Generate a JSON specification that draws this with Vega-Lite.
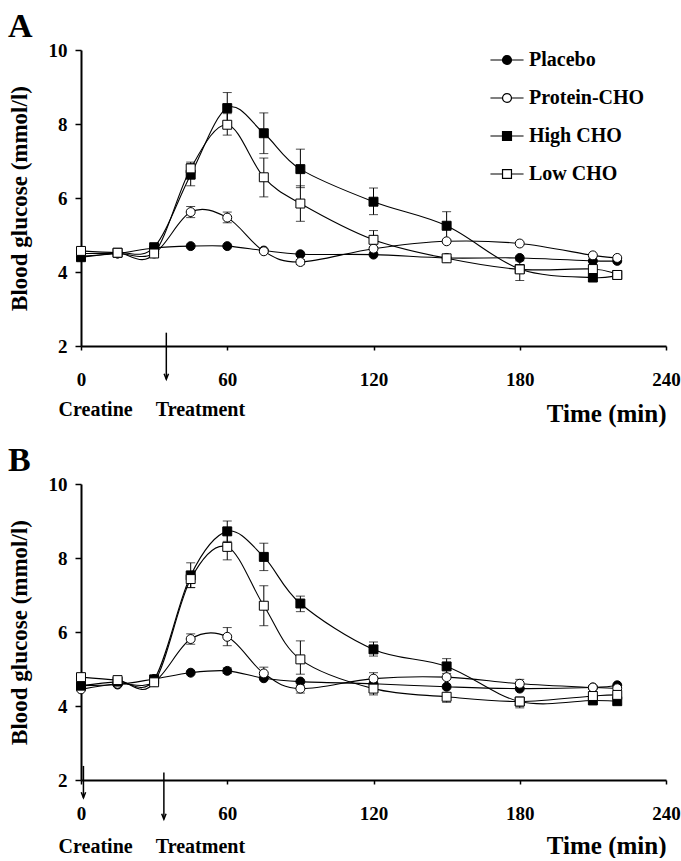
{
  "$schema": "https://vega.github.io/schema/vega-lite/v6.json",
  "padding": {"left": 8, "top": 10, "right": 0, "bottom": 0},
  "background": "white",
  "config": {
    "font": "Liberation Serif",
    "view": {"stroke": null},
    "axis": {"domainColor": "black", "domainWidth": 2, "tickColor": "black", "tickWidth": 1.5, "labelColor": "black", "labelFont": "Liberation Serif", "labelFontWeight": "bold", "labelFontSize": 19, "titleFont": "Liberation Serif", "titleFontWeight": "bold", "titleColor": "black", "grid": false},
    "title": {"font": "Liberation Serif", "fontWeight": "bold", "fontSize": 34, "anchor": "start", "color": "black", "frame": "bounds", "offset": -3},
    "concat": {"spacing": 18}
  },
  "datasets": {
    "A": [
      {"group": "Placebo", "t": 0, "v": 4.43}, {"group": "Placebo", "t": 15, "v": 4.5}, {"group": "Placebo", "t": 30, "v": 4.65}, {"group": "Placebo", "t": 45, "v": 4.7}, {"group": "Placebo", "t": 60, "v": 4.7}, {"group": "Placebo", "t": 75, "v": 4.58}, {"group": "Placebo", "t": 90, "v": 4.48}, {"group": "Placebo", "t": 120, "v": 4.47}, {"group": "Placebo", "t": 150, "v": 4.38}, {"group": "Placebo", "t": 180, "v": 4.38}, {"group": "Placebo", "t": 210, "v": 4.3}, {"group": "Placebo", "t": 220, "v": 4.3},
      {"group": "Protein-CHO", "t": 0, "v": 4.5}, {"group": "Protein-CHO", "t": 15, "v": 4.5}, {"group": "Protein-CHO", "t": 30, "v": 4.5}, {"group": "Protein-CHO", "t": 45, "v": 5.62, "lo": 5.47, "hi": 5.77}, {"group": "Protein-CHO", "t": 60, "v": 5.47, "lo": 5.33, "hi": 5.62}, {"group": "Protein-CHO", "t": 75, "v": 4.56}, {"group": "Protein-CHO", "t": 90, "v": 4.27, "lo": 4.2, "hi": 4.33}, {"group": "Protein-CHO", "t": 120, "v": 4.63}, {"group": "Protein-CHO", "t": 150, "v": 4.83}, {"group": "Protein-CHO", "t": 180, "v": 4.77}, {"group": "Protein-CHO", "t": 210, "v": 4.45}, {"group": "Protein-CHO", "t": 220, "v": 4.38},
      {"group": "High CHO", "t": 0, "v": 4.4}, {"group": "High CHO", "t": 15, "v": 4.52}, {"group": "High CHO", "t": 30, "v": 4.67}, {"group": "High CHO", "t": 45, "v": 6.63, "lo": 6.33, "hi": 6.93}, {"group": "High CHO", "t": 60, "v": 8.43, "lo": 8.03, "hi": 8.85}, {"group": "High CHO", "t": 75, "v": 7.75, "lo": 7.2, "hi": 8.3}, {"group": "High CHO", "t": 90, "v": 6.78, "lo": 6.28, "hi": 7.32}, {"group": "High CHO", "t": 120, "v": 5.9, "lo": 5.55, "hi": 6.27}, {"group": "High CHO", "t": 150, "v": 5.25, "lo": 4.88, "hi": 5.63}, {"group": "High CHO", "t": 180, "v": 4.08}, {"group": "High CHO", "t": 210, "v": 3.85, "lo": 3.78, "hi": 3.92}, {"group": "High CHO", "t": 220, "v": 3.92},
      {"group": "Low CHO", "t": 0, "v": 4.57}, {"group": "Low CHO", "t": 15, "v": 4.52}, {"group": "Low CHO", "t": 30, "v": 4.5}, {"group": "Low CHO", "t": 45, "v": 6.8, "lo": 6.65, "hi": 6.97}, {"group": "Low CHO", "t": 60, "v": 7.98, "lo": 7.7, "hi": 8.28}, {"group": "Low CHO", "t": 75, "v": 6.56, "lo": 6.03, "hi": 7.08}, {"group": "Low CHO", "t": 90, "v": 5.85, "lo": 5.37, "hi": 6.33}, {"group": "Low CHO", "t": 120, "v": 4.87, "lo": 4.65, "hi": 5.12}, {"group": "Low CHO", "t": 150, "v": 4.37}, {"group": "Low CHO", "t": 180, "v": 4.07, "lo": 3.77, "hi": 4.3}, {"group": "Low CHO", "t": 210, "v": 4.08}, {"group": "Low CHO", "t": 220, "v": 3.92}
    ],
    "B": [
      {"group": "Placebo", "t": 0, "v": 4.55}, {"group": "Placebo", "t": 15, "v": 4.58}, {"group": "Placebo", "t": 30, "v": 4.73}, {"group": "Placebo", "t": 45, "v": 4.9}, {"group": "Placebo", "t": 60, "v": 4.95, "lo": 4.88, "hi": 5.03}, {"group": "Placebo", "t": 75, "v": 4.75}, {"group": "Placebo", "t": 90, "v": 4.66}, {"group": "Placebo", "t": 120, "v": 4.6}, {"group": "Placebo", "t": 150, "v": 4.52}, {"group": "Placebo", "t": 180, "v": 4.47}, {"group": "Placebo", "t": 210, "v": 4.5}, {"group": "Placebo", "t": 220, "v": 4.56},
      {"group": "Protein-CHO", "t": 0, "v": 4.45}, {"group": "Protein-CHO", "t": 15, "v": 4.6}, {"group": "Protein-CHO", "t": 30, "v": 4.65}, {"group": "Protein-CHO", "t": 45, "v": 5.81, "lo": 5.67, "hi": 5.95}, {"group": "Protein-CHO", "t": 60, "v": 5.87, "lo": 5.63, "hi": 6.12}, {"group": "Protein-CHO", "t": 75, "v": 4.88, "lo": 4.75, "hi": 5.05}, {"group": "Protein-CHO", "t": 90, "v": 4.47, "lo": 4.35, "hi": 4.55}, {"group": "Protein-CHO", "t": 120, "v": 4.74, "lo": 4.6, "hi": 4.9}, {"group": "Protein-CHO", "t": 150, "v": 4.78}, {"group": "Protein-CHO", "t": 180, "v": 4.6, "lo": 4.5, "hi": 4.72}, {"group": "Protein-CHO", "t": 210, "v": 4.5}, {"group": "Protein-CHO", "t": 220, "v": 4.48},
      {"group": "High CHO", "t": 0, "v": 4.55}, {"group": "High CHO", "t": 15, "v": 4.66}, {"group": "High CHO", "t": 30, "v": 4.72}, {"group": "High CHO", "t": 45, "v": 7.53, "lo": 7.2, "hi": 7.87}, {"group": "High CHO", "t": 60, "v": 8.72, "lo": 8.45, "hi": 9.0}, {"group": "High CHO", "t": 75, "v": 8.03, "lo": 7.66, "hi": 8.4}, {"group": "High CHO", "t": 90, "v": 6.77, "lo": 6.55, "hi": 6.97}, {"group": "High CHO", "t": 120, "v": 5.53, "lo": 5.35, "hi": 5.73}, {"group": "High CHO", "t": 150, "v": 5.07, "lo": 4.88, "hi": 5.28}, {"group": "High CHO", "t": 180, "v": 4.12}, {"group": "High CHO", "t": 210, "v": 4.15, "lo": 4.05, "hi": 4.25}, {"group": "High CHO", "t": 220, "v": 4.13},
      {"group": "Low CHO", "t": 0, "v": 4.78}, {"group": "Low CHO", "t": 15, "v": 4.7}, {"group": "Low CHO", "t": 30, "v": 4.64}, {"group": "Low CHO", "t": 45, "v": 7.43, "lo": 7.2, "hi": 7.6}, {"group": "Low CHO", "t": 60, "v": 8.3, "lo": 7.95, "hi": 8.65}, {"group": "Low CHO", "t": 75, "v": 6.71, "lo": 6.17, "hi": 7.25}, {"group": "Low CHO", "t": 90, "v": 5.26, "lo": 4.86, "hi": 5.76}, {"group": "Low CHO", "t": 120, "v": 4.47, "lo": 4.3, "hi": 4.55}, {"group": "Low CHO", "t": 150, "v": 4.25, "lo": 4.1, "hi": 4.35}, {"group": "Low CHO", "t": 180, "v": 4.12, "lo": 3.95, "hi": 4.2}, {"group": "Low CHO", "t": 210, "v": 4.27}, {"group": "Low CHO", "t": 220, "v": 4.3}
    ],
    "notesA": [{"label": "Creatine", "t": 6, "y": 0.27}, {"label": "Treatment", "t": 49, "y": 0.27}],
    "arrowsA": [{"t": 35, "top": 2.36, "tip": 1.1}],
    "notesB": [{"label": "Creatine", "t": 6, "y": 0.19}, {"label": "Treatment", "t": 49, "y": 0.19}],
    "arrowsB": [{"t": 1, "top": 2.38, "tip": 1.52}, {"t": 34, "top": 2.2, "tip": 0.94}]
  },
  "resolve": {"scale": {"shape": "independent", "fill": "independent"}, "legend": {"shape": "independent", "fill": "independent"}},
  "vconcat": [
    {
      "title": {"text": "A"},
      "width": 585,
      "height": 296,
      "resolve": {"scale": {"shape": "independent", "fill": "independent"}, "legend": {"shape": "independent", "fill": "independent"}},
      "layer": [
        {
          "data": {"name": "A"},
          "mark": {"type": "line", "interpolate": "cardinal", "color": "black", "strokeWidth": 1.1},
          "encoding": {
            "x": {"field": "t", "type": "quantitative", "title": "Time (min)", "scale": {"domain": [0, 240], "nice": false}, "axis": {"values": [0, 60, 120, 180, 240], "tickSize": 4, "labelPadding": 20, "labelFlush": false, "labelOverlap": false, "titleAnchor": "end", "titlePadding": 12, "titleFontSize": 25}},
            "y": {"field": "v", "type": "quantitative", "title": "Blood glucose (mmol/l)", "scale": {"domain": [2, 10], "nice": false, "zero": false}, "axis": {"values": [2, 4, 6, 8, 10], "tickSize": 6, "labelPadding": 8, "titleFontSize": 23, "titlePadding": 17}},
            "detail": {"field": "group"}
          }
        },
        {
          "data": {"name": "A"},
          "transform": [{"filter": "isValid(datum.lo)"}],
          "mark": {"type": "rule", "color": "black", "strokeWidth": 1},
          "encoding": {"x": {"field": "t", "type": "quantitative", "title": "Time (min)"}, "y": {"field": "lo", "type": "quantitative", "title": "Blood glucose (mmol/l)"}, "y2": {"field": "hi"}}
        },
        {
          "data": {"name": "A"},
          "transform": [{"filter": "isValid(datum.lo)"}],
          "mark": {"type": "tick", "orient": "horizontal", "color": "black", "size": 9, "thickness": 1},
          "encoding": {"x": {"field": "t", "type": "quantitative", "title": "Time (min)"}, "y": {"field": "lo", "type": "quantitative", "title": "Blood glucose (mmol/l)"}}
        },
        {
          "data": {"name": "A"},
          "transform": [{"filter": "isValid(datum.hi)"}],
          "mark": {"type": "tick", "orient": "horizontal", "color": "black", "size": 9, "thickness": 1},
          "encoding": {"x": {"field": "t", "type": "quantitative", "title": "Time (min)"}, "y": {"field": "hi", "type": "quantitative", "title": "Blood glucose (mmol/l)"}}
        },
        {
          "data": {"name": "A"},
          "mark": {"type": "point", "filled": true, "stroke": "black", "strokeWidth": 1, "size": 80, "opacity": 1},
          "encoding": {
            "x": {"field": "t", "type": "quantitative", "title": "Time (min)"},
            "y": {"field": "v", "type": "quantitative", "title": "Blood glucose (mmol/l)"},
            "shape": {"field": "group", "type": "nominal", "scale": {"domain": ["Placebo", "Protein-CHO", "High CHO", "Low CHO"], "range": ["circle", "circle", "square", "square"]}, "legend": null},
            "fill": {"field": "group", "type": "nominal", "scale": {"domain": ["Placebo", "Protein-CHO", "High CHO", "Low CHO"], "range": ["black", "white", "black", "white"]}, "legend": null}
          }
        },
        {
          "data": {"name": "A"},
          "transform": [{"filter": "datum.t == 0"}],
          "mark": {"type": "point", "filled": true, "stroke": "black", "strokeWidth": 1.2, "size": 80, "opacity": 0},
          "encoding": {
            "x": {"field": "t", "type": "quantitative", "title": "Time (min)"},
            "y": {"field": "v", "type": "quantitative", "title": "Blood glucose (mmol/l)"},
            "shape": {"field": "group", "type": "nominal", "scale": {"domain": ["Placebo", "Protein-CHO", "High CHO", "Low CHO"], "range": ["M-3.7,0L-1,0M1,0L3.7,0M-1,0A1,1 0 1,1 1,0A1,1 0 1,1 -1,0Z", "M-3.7,0L-1,0M1,0L3.7,0M-1,0A1,1 0 1,1 1,0A1,1 0 1,1 -1,0Z", "M-3.7,0L-1,0M1,0L3.7,0M-1,-1L1,-1L1,1L-1,1Z", "M-3.7,0L-1,0M1,0L3.7,0M-1,-1L1,-1L1,1L-1,1Z"]},
              "legend": {"title": null, "orient": "none", "legendX": 416, "legendY": 0, "labelFont": "Liberation Serif", "labelFontWeight": "bold", "labelFontSize": 20, "labelColor": "black", "symbolSize": 80, "symbolOpacity": 1, "symbolStrokeWidth": 1.2, "rowPadding": 18, "labelOffset": 12}},
            "fill": {"field": "group", "type": "nominal", "scale": {"domain": ["Placebo", "Protein-CHO", "High CHO", "Low CHO"], "range": ["black", "white", "black", "white"]},
              "legend": {"title": null, "orient": "none", "legendX": 416, "legendY": 0, "labelFont": "Liberation Serif", "labelFontWeight": "bold", "labelFontSize": 20, "labelColor": "black", "symbolSize": 80, "symbolOpacity": 1, "symbolStrokeWidth": 1.2, "rowPadding": 18, "labelOffset": 12}}
          }
        },
        {
          "data": {"name": "notesA"},
          "mark": {"type": "text", "font": "Liberation Serif", "fontWeight": "bold", "fontSize": 20, "color": "black", "align": "center", "baseline": "middle"},
          "encoding": {"x": {"field": "t", "type": "quantitative", "title": "Time (min)"}, "y": {"field": "y", "type": "quantitative", "title": "Blood glucose (mmol/l)"}, "text": {"field": "label"}}
        },
        {
          "data": {"name": "arrowsA"},
          "mark": {"type": "rule", "color": "black", "strokeWidth": 1.5},
          "encoding": {"x": {"field": "t", "type": "quantitative", "title": "Time (min)"}, "y": {"field": "top", "type": "quantitative", "title": "Blood glucose (mmol/l)"}, "y2": {"field": "tip"}}
        },
        {
          "data": {"name": "arrowsA"},
          "mark": {"type": "point", "shape": "M-0.8,-2L0,0L0.8,-2", "filled": false, "stroke": "black", "strokeWidth": 1.5, "size": 30, "opacity": 1},
          "encoding": {"x": {"field": "t", "type": "quantitative", "title": "Time (min)"}, "y": {"field": "tip", "type": "quantitative", "title": "Blood glucose (mmol/l)"}}
        }
      ]
    },
    {
      "title": {"text": "B"},
      "width": 585,
      "height": 296,
      "layer": [
        {
          "data": {"name": "B"},
          "mark": {"type": "line", "interpolate": "cardinal", "color": "black", "strokeWidth": 1.1},
          "encoding": {
            "x": {"field": "t", "type": "quantitative", "title": "Time (min)", "scale": {"domain": [0, 240], "nice": false}, "axis": {"values": [0, 60, 120, 180, 240], "tickSize": 4, "labelPadding": 20, "labelFlush": false, "labelOverlap": false, "titleAnchor": "end", "titlePadding": 10, "titleFontSize": 25}},
            "y": {"field": "v", "type": "quantitative", "title": "Blood glucose (mmol/l)", "scale": {"domain": [2, 10], "nice": false, "zero": false}, "axis": {"values": [2, 4, 6, 8, 10], "tickSize": 6, "labelPadding": 8, "titleFontSize": 23, "titlePadding": 17}},
            "detail": {"field": "group"}
          }
        },
        {
          "data": {"name": "B"},
          "transform": [{"filter": "isValid(datum.lo)"}],
          "mark": {"type": "rule", "color": "black", "strokeWidth": 1},
          "encoding": {"x": {"field": "t", "type": "quantitative", "title": "Time (min)"}, "y": {"field": "lo", "type": "quantitative", "title": "Blood glucose (mmol/l)"}, "y2": {"field": "hi"}}
        },
        {
          "data": {"name": "B"},
          "transform": [{"filter": "isValid(datum.lo)"}],
          "mark": {"type": "tick", "orient": "horizontal", "color": "black", "size": 9, "thickness": 1},
          "encoding": {"x": {"field": "t", "type": "quantitative", "title": "Time (min)"}, "y": {"field": "lo", "type": "quantitative", "title": "Blood glucose (mmol/l)"}}
        },
        {
          "data": {"name": "B"},
          "transform": [{"filter": "isValid(datum.hi)"}],
          "mark": {"type": "tick", "orient": "horizontal", "color": "black", "size": 9, "thickness": 1},
          "encoding": {"x": {"field": "t", "type": "quantitative", "title": "Time (min)"}, "y": {"field": "hi", "type": "quantitative", "title": "Blood glucose (mmol/l)"}}
        },
        {
          "data": {"name": "B"},
          "mark": {"type": "point", "filled": true, "stroke": "black", "strokeWidth": 1, "size": 80, "opacity": 1},
          "encoding": {
            "x": {"field": "t", "type": "quantitative", "title": "Time (min)"},
            "y": {"field": "v", "type": "quantitative", "title": "Blood glucose (mmol/l)"},
            "shape": {"field": "group", "type": "nominal", "scale": {"domain": ["Placebo", "Protein-CHO", "High CHO", "Low CHO"], "range": ["circle", "circle", "square", "square"]}, "legend": null},
            "fill": {"field": "group", "type": "nominal", "scale": {"domain": ["Placebo", "Protein-CHO", "High CHO", "Low CHO"], "range": ["black", "white", "black", "white"]}, "legend": null}
          }
        },
        {
          "data": {"name": "notesB"},
          "mark": {"type": "text", "font": "Liberation Serif", "fontWeight": "bold", "fontSize": 20, "color": "black", "align": "center", "baseline": "middle"},
          "encoding": {"x": {"field": "t", "type": "quantitative", "title": "Time (min)"}, "y": {"field": "y", "type": "quantitative", "title": "Blood glucose (mmol/l)"}, "text": {"field": "label"}}
        },
        {
          "data": {"name": "arrowsB"},
          "mark": {"type": "rule", "color": "black", "strokeWidth": 1.5},
          "encoding": {"x": {"field": "t", "type": "quantitative", "title": "Time (min)"}, "y": {"field": "top", "type": "quantitative", "title": "Blood glucose (mmol/l)"}, "y2": {"field": "tip"}}
        },
        {
          "data": {"name": "arrowsB"},
          "mark": {"type": "point", "shape": "M-0.8,-2L0,0L0.8,-2", "filled": false, "stroke": "black", "strokeWidth": 1.5, "size": 30, "opacity": 1},
          "encoding": {"x": {"field": "t", "type": "quantitative", "title": "Time (min)"}, "y": {"field": "tip", "type": "quantitative", "title": "Blood glucose (mmol/l)"}}
        }
      ]
    }
  ]
}
